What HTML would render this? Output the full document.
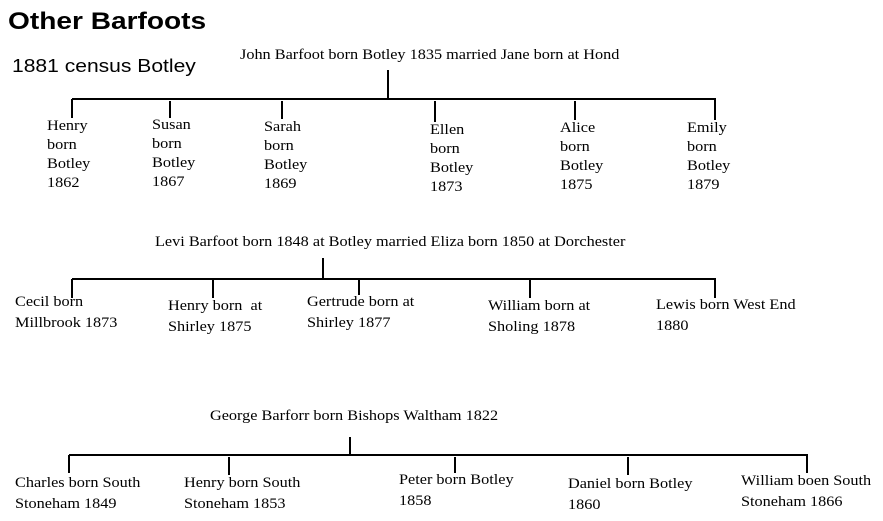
<!DOCTYPE html>
<html><head><meta charset="utf-8"><style>
body{margin:0;width:883px;height:521px;background:#fff;position:relative;overflow:hidden;font-family:"Liberation Serif",serif;font-size:14.5px;color:#000}
.t,.t2{position:absolute;white-space:nowrap;transform:scaleX(1.12);transform-origin:0 0}
.t{line-height:19px}
.t2{line-height:21px}
svg{position:absolute;left:0;top:0}
</style></head><body>
<svg width="883" height="521"><g stroke="#000" stroke-width="2" fill="none">
<line x1="388" y1="70" x2="388" y2="99"/>
<line x1="72" y1="99" x2="716" y2="99"/>
<line x1="72" y1="99" x2="72" y2="118"/>
<line x1="170" y1="101" x2="170" y2="118"/>
<line x1="282" y1="101" x2="282" y2="119"/>
<line x1="435" y1="101" x2="435" y2="122"/>
<line x1="575" y1="101" x2="575" y2="120"/>
<line x1="715" y1="99" x2="715" y2="120"/>
<line x1="323" y1="258" x2="323" y2="279"/>
<line x1="72" y1="279" x2="716" y2="279"/>
<line x1="72" y1="279" x2="72" y2="298"/>
<line x1="213" y1="279" x2="213" y2="298"/>
<line x1="359" y1="279" x2="359" y2="295"/>
<line x1="530" y1="279" x2="530" y2="298"/>
<line x1="715" y1="279" x2="715" y2="298"/>
<line x1="350" y1="437" x2="350" y2="455"/>
<line x1="69" y1="455" x2="808" y2="455"/>
<line x1="69" y1="455" x2="69" y2="473"/>
<line x1="229" y1="457" x2="229" y2="475"/>
<line x1="455" y1="457" x2="455" y2="473"/>
<line x1="628" y1="457" x2="628" y2="475"/>
<line x1="807" y1="455" x2="807" y2="473"/>
</g></svg>
<div style="position:absolute;left:8px;top:8px;font:bold 24px 'Liberation Sans',sans-serif;transform:scaleX(1.17);transform-origin:0 0;white-space:nowrap">Other Barfoots</div>
<div style="position:absolute;left:12px;top:56px;font:18px 'Liberation Sans',sans-serif;transform:scaleX(1.17);transform-origin:0 0;white-space:nowrap">1881 census Botley</div>
<div class="t" style="left:240px;top:46px">John Barfoot born Botley 1835 married Jane born at Hond</div>
<div class="t" style="left:47px;top:117px">Henry<br>born<br>Botley<br>1862</div>
<div class="t" style="left:152px;top:116px">Susan<br>born<br>Botley<br>1867</div>
<div class="t" style="left:264px;top:118px">Sarah<br>born<br>Botley<br>1869</div>
<div class="t" style="left:430px;top:121px">Ellen<br>born<br>Botley<br>1873</div>
<div class="t" style="left:560px;top:119px">Alice<br>born<br>Botley<br>1875</div>
<div class="t" style="left:687px;top:119px">Emily<br>born<br>Botley<br>1879</div>
<div class="t" style="left:155px;top:233px">Levi Barfoot born 1848 at Botley married Eliza born 1850 at Dorchester</div>
<div class="t2" style="left:15px;top:292px">Cecil born<br>Millbrook 1873</div>
<div class="t2" style="left:168px;top:296px">Henry born&nbsp; at<br>Shirley 1875</div>
<div class="t2" style="left:307px;top:292px">Gertrude born at<br>Shirley 1877</div>
<div class="t2" style="left:488px;top:296px">William born at<br>Sholing 1878</div>
<div class="t2" style="left:656px;top:295px">Lewis born West End<br>1880</div>
<div class="t" style="left:210px;top:407px">George Barforr born Bishops Waltham 1822</div>
<div class="t2" style="left:15px;top:473px">Charles born South<br>Stoneham 1849</div>
<div class="t2" style="left:184px;top:473px">Henry born South<br>Stoneham 1853</div>
<div class="t2" style="left:399px;top:470px">Peter born Botley<br>1858</div>
<div class="t2" style="left:568px;top:474px">Daniel born Botley<br>1860</div>
<div class="t2" style="left:741px;top:471px">William boen South<br>Stoneham 1866</div>
</body></html>
